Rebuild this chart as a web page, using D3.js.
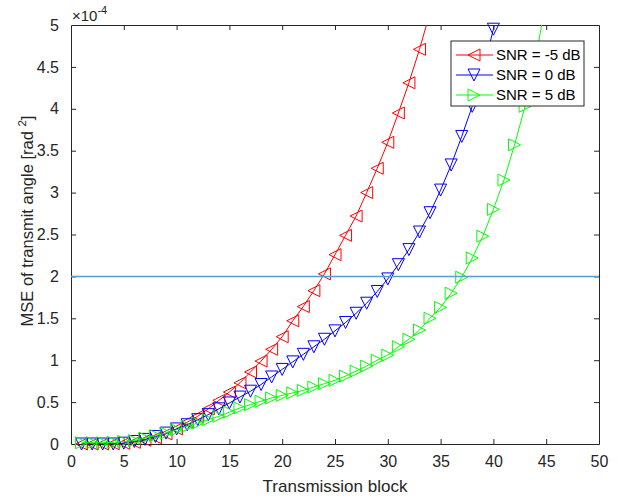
<!DOCTYPE html>
<html>
<head>
<meta charset="utf-8">
<script src="https://cdn.jsdelivr.net/npm/d3@7"></script>
<style>
  html, body { margin: 0; padding: 0; background: #fff; }
  svg { display: block; font-family: "Liberation Sans", Arial, Helvetica, sans-serif; }
</style>
</head>
<body>
<svg id="chart" width="622" height="499"></svg>
<script>
// MSE of transmit angle (in units of 1e-4 rad^2) per transmission block
const blocksRed   = d3.range(1, 35);   // 1..34
const blocksBlue  = d3.range(1, 42);   // 1..41
const blocksGreen = d3.range(1, 46);   // 1..45

const mseRed = [0.00, 0.00, 0.00, 0.003, 0.008, 0.02, 0.045, 0.075, 0.12, 0.18,
                0.26, 0.33, 0.42, 0.52, 0.62, 0.73, 0.86, 0.99, 1.13, 1.28,
                1.47, 1.64, 1.83, 2.03, 2.26, 2.49, 2.72, 3.00, 3.29, 3.60,
                3.95, 4.31, 4.71, 5.15];
const mseBlue = [0.00, 0.00, 0.00, 0.00, 0.01, 0.03, 0.055, 0.09, 0.13, 0.18,
                 0.23, 0.29, 0.35, 0.42, 0.49, 0.56, 0.63, 0.71, 0.80, 0.89,
                 0.98, 1.07, 1.16, 1.25, 1.35, 1.45, 1.56, 1.68, 1.82, 1.97,
                 2.14, 2.32, 2.53, 2.76, 3.03, 3.33, 3.67, 4.03, 4.45, 4.95,
                 5.50];
const mseGreen = [0.015, 0.015, 0.015, 0.02, 0.03, 0.04, 0.07, 0.10, 0.13, 0.17,
                  0.21, 0.25, 0.29, 0.33, 0.38, 0.43, 0.47, 0.51, 0.55, 0.58,
                  0.61, 0.64, 0.68, 0.72, 0.76, 0.81, 0.87, 0.93, 1.00, 1.06,
                  1.16, 1.25, 1.36, 1.50, 1.63, 1.80, 1.99, 2.22, 2.48, 2.80,
                  3.15, 3.57, 4.03, 4.60, 5.30];

const seriesNames = ["SNR = -5 dB", "SNR = 0 dB", "SNR = 5 dB"];
const seriesColors = ["#ff0000", "#0000ff", "#00ff00"];
const seriesMarkers = ["left", "down", "right"];

const thresholdValue = 2;   // target level, 2e-4 rad^2

const xTicks = [0, 5, 10, 15, 20, 25, 30, 35, 40, 45, 50];
const yTicks = [0, 0.5, 1, 1.5, 2, 2.5, 3, 3.5, 4, 4.5, 5];
const yTickLabels = ["0", "0.5", "1", "1.5", "2", "2.5", "3", "3.5", "4", "4.5", "5"];

const series = [
  { name: seriesNames[0], color: seriesColors[0], marker: seriesMarkers[0],
    pts: blocksRed.map((b, i) => [b, mseRed[i]]) },
  { name: seriesNames[1], color: seriesColors[1], marker: seriesMarkers[1],
    pts: blocksBlue.map((b, i) => [b, mseBlue[i]]) },
  { name: seriesNames[2], color: seriesColors[2], marker: seriesMarkers[2],
    pts: blocksGreen.map((b, i) => [b, mseGreen[i]]) }
];

const svg = d3.select("#chart");
const axisColor = "#262626";

const plotL = 71, plotR = 599, plotT = 25, plotB = 444;
const x = d3.scaleLinear().domain([0, 50]).range([plotL, plotR]);
const y = d3.scaleLinear().domain([0, 5]).range([plotB, plotT]);

// triangle marker outline, centred on its bounding box
const R = 6;
function markerPath(kind) {
  if (kind === "left")  return `M${-R},0L${R},${-R}L${R},${R}Z`;
  if (kind === "right") return `M${R},0L${-R},${-R}L${-R},${R}Z`;
  return `M0,${R}L${-R},${-R}L${R},${-R}Z`; // down
}

svg.append("defs").append("clipPath").attr("id", "plotClip")
  .append("rect").attr("x", plotL).attr("y", plotT)
  .attr("width", plotR - plotL).attr("height", plotB - plotT);

// axes with ticks pointing inward
const tickLen = 5;
const gx = svg.append("g").attr("transform", `translate(0,${plotB})`)
  .call(d3.axisBottom(x).tickValues(xTicks).tickSizeInner(-tickLen).tickSizeOuter(0).tickPadding(12));
const gxTop = svg.append("g").attr("transform", `translate(0,${plotT})`)
  .call(d3.axisTop(x).tickValues(xTicks).tickSizeInner(-tickLen).tickSizeOuter(0).tickFormat(""));
const gy = svg.append("g").attr("transform", `translate(${plotL},0)`)
  .call(d3.axisLeft(y).tickValues(yTicks).tickSizeInner(-tickLen).tickSizeOuter(0)
        .tickPadding(12).tickFormat((d, i) => yTickLabels[i]));
const gyRight = svg.append("g").attr("transform", `translate(${plotR},0)`)
  .call(d3.axisRight(y).tickValues(yTicks).tickSizeInner(-tickLen).tickSizeOuter(0).tickFormat(""));

[gx, gxTop, gy, gyRight].forEach(g => {
  g.selectAll("path.domain").attr("stroke", axisColor).attr("stroke-width", 1);
  g.selectAll(".tick line").attr("stroke", axisColor).attr("stroke-width", 1);
  g.selectAll(".tick text").attr("fill", axisColor).style("font-size", "16px")
    .style("font-family", '"Liberation Sans", Arial, sans-serif');
});
// end ticks would sit on the box edges
gx.selectAll(".tick line").filter(d => d === 0 || d === 50).remove();
gxTop.selectAll(".tick line").filter(d => d === 0 || d === 50).remove();
gy.selectAll(".tick line").filter(d => d === 0 || d === 5).remove();
gyRight.selectAll(".tick line").filter(d => d === 0 || d === 5).remove();

// exponent label
const expo = svg.append("text").attr("x", plotL + 1).attr("y", 21)
  .attr("fill", axisColor).style("font-size", "15px");
expo.append("tspan").text("\u00d710");
expo.append("tspan").attr("dy", -7).style("font-size", "11px").text("-4");

// axis titles
svg.append("text").attr("x", 335).attr("y", 492).attr("text-anchor", "middle")
  .attr("fill", axisColor).style("font-size", "17px").text("Transmission block");

const ylab = svg.append("text")
  .attr("transform", `translate(33,221) rotate(-90)`)
  .attr("text-anchor", "middle").attr("fill", axisColor).style("font-size", "16.5px");
ylab.append("tspan").text("MSE of transmit angle [rad ");
ylab.append("tspan").attr("dy", -7).style("font-size", "11.5px").text("2");
ylab.append("tspan").attr("dy", 7).text("]");

// series
const line = d3.line().x(d => x(d[0])).y(d => y(d[1]));
const plot = svg.append("g");
series.forEach(s => {
  plot.append("path").datum(s.pts).attr("d", line)
    .attr("clip-path", "url(#plotClip)")
    .attr("fill", "none").attr("stroke", s.color).attr("stroke-width", 1);
  plot.selectAll(null).data(s.pts.filter(d => d[1] <= 5)).enter().append("path")
    .attr("transform", d => `translate(${x(d[0])},${y(d[1])})`)
    .attr("d", markerPath(s.marker))
    .attr("fill", "none").attr("stroke", s.color).attr("stroke-width", 1);
});

// threshold line
svg.append("line").attr("x1", x(0)).attr("x2", x(50))
  .attr("y1", y(thresholdValue)).attr("y2", y(thresholdValue))
  .attr("stroke", "#5a9bd0").attr("stroke-width", 1.5);

// legend
const lg = svg.append("g");
lg.append("rect").attr("x", 451).attr("y", 41).attr("width", 133).attr("height", 65)
  .attr("fill", "#fff").attr("stroke", axisColor).attr("stroke-width", 1);
const rowY = [55, 75, 95];
series.forEach((s, i) => {
  lg.append("line").attr("x1", 456).attr("x2", 493).attr("y1", rowY[i]).attr("y2", rowY[i])
    .attr("stroke", s.color).attr("stroke-width", 1);
  lg.append("path").attr("transform", `translate(474,${rowY[i]})`)
    .attr("d", markerPath(s.marker)).attr("fill", "none")
    .attr("stroke", s.color).attr("stroke-width", 1);
  lg.append("text").attr("x", 496).attr("y", rowY[i]).attr("dy", "0.36em")
    .attr("fill", "#000").style("font-size", "15px").text(s.name);
});
</script>
</body>
</html>
